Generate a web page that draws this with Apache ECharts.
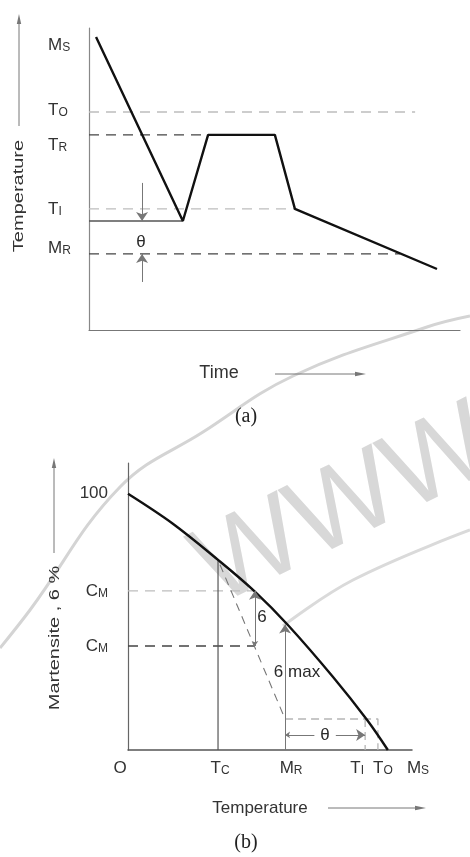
<!DOCTYPE html>
<html>
<head>
<meta charset="utf-8">
<script src="https://cdn.jsdelivr.net/npm/echarts@6/dist/echarts.min.js"></script>
<style>
  html, body { margin: 0; background: #fff; }
  #main { width: 470px; height: 857px; }
</style>
</head>
<body>
<div id="main"></div>
<script>
// (a) temperature / time schedule, both axes in arbitrary units 0-100
var coolPath = [[1.9, 97], [25.3, 36.1], [32.1, 64.6], [50.1, 64.6], [55.5, 40.1], [93.8, 20.2]]
var toLine = [[0, 72.2], [87.9, 72.2]]
var trLine = [[0, 64.6], [32.1, 64.6]]
var tiLine = [[0, 40.1], [55.5, 40.1]]
var quenchLine = [[0, 36.1], [25.3, 36.1]]
var mrLine = [[0, 25.2], [83.8, 25.2]]
var thetaArrowsA = [[[14.3, 48.7], [14.3, 36.1]], [[14.3, 15.9], [14.3, 25.2]]]
var thetaLabelA = [14, 29.1]
var tempTicks = ['MS', 'TO', 'TR', 'TI', 'MR']
var tempTickAt = [94.4, 72.8, 61.3, 40.1, 27.2]

// (b) martensite % vs temperature
var martCurve = [[0, 100], [15.8, 88.3], [31.7, 74.2], [44.4, 62.1], [56.3, 48.8], [72.2, 28.5], [84.2, 11.7], [91.5, 0]]
var cmUpper = [[0, 62.1], [44.4, 62.1]]
var cmLower = [[0, 40.6], [44.7, 40.6]]
var tcLine = [[31.7, 0], [31.7, 74.2]]
var tangent = [[32.4, 72.3], [55.3, 12.1]]
var boxLine = [[55.3, 12.1], [88, 12.1], [88, 0]]
var tiDrop = [[83.5, 12.1], [83.5, 0]]
var deltaArrow = [[44.7, 40.6], [44.7, 62.1]]
var mrArrow = [[55.3, 0], [55.3, 49]]
var thetaArrowB = [[55.3, 5.9], [83.5, 5.9]]
var martTicks = ['100', 'CM', 'CM']
var martTickAt = [100, 62.1, 40.6]
var tempTicksB = ['O', 'TC', 'MR', 'TI', 'TO', 'MS']
var tempTickAtB = [0, 31.7, 55.3, 83.5, 88, 100]
var notesB = [{ value: [47.2, 51.6], name: '6' }, { value: [59.5, 30.5], name: '6 max' }, { value: [69.4, 5.9], name: 'θ' }]

var FONT = '"Liberation Sans", Arial, sans-serif'
var INK = '#333'

// first letter big, the rest as small capitals; shift moves the label sideways
function tickText (t, i) {
  if (t.length === 1 || /^\d+$/.test(t)) return '{b' + i + '|' + t + '}'
  return '{b' + i + '|' + t[0] + '}{s' + i + '|' + t.slice(1) + '}'
}
function tickRich (labels, shifts) {
  var r = {}
  labels.forEach(function (t, i) {
    var d = shifts ? shifts[i] : 0
    var single = t.length === 1 || /^\d+$/.test(t)
    r['b' + i] = { fontSize: 17, fontFamily: FONT, color: INK, verticalAlign: 'bottom',
      padding: [0, (single && d < 0) ? -2 * d : 0, 0, d > 0 ? 2 * d : 0] }
    r['s' + i] = { fontSize: 12, fontFamily: FONT, color: INK, verticalAlign: 'bottom',
      padding: [0, d < 0 ? -2 * d : 0, 0, 0] }
  })
  return r
}

function seg (data, color, type, width, ax) {
  return {
    type: 'line', data: data, xAxisIndex: ax, yAxisIndex: ax,
    showSymbol: false, symbol: 'none', silent: true, z: 3,
    lineStyle: { color: color, type: type, width: width || 1.3 }
  }
}
function arrows (list, color, both, ax) {
  return {
    type: 'lines', coordinateSystem: 'cartesian2d', xAxisIndex: ax, yAxisIndex: ax,
    data: list.map(function (c) { return { coords: c } }),
    symbol: both ? ['arrow', 'arrow'] : ['none', 'arrow'], symbolSize: [5, 9],
    lineStyle: { color: color, width: 1, opacity: 1, curveness: 0 }, silent: true, z: 4
  }
}
function notes (data, ax) {
  return {
    type: 'scatter', xAxisIndex: ax, yAxisIndex: ax, data: data,
    symbolSize: 1, itemStyle: { color: 'transparent', opacity: 1 }, silent: true, z: 5,
    label: { show: true, position: 'inside', formatter: '{b}', fontSize: 17, fontFamily: FONT,
      color: '#2a2a2a', textBorderWidth: 0 }
  }
}

var chartDom = document.getElementById('main')
var myChart = echarts.init(chartDom)
var option

option = {
  backgroundColor: '#fff',
  animation: false,
  grid: [
    { left: 89, top: 28, width: 371, height: 302, outerBoundsMode: 'none' },
    { left: 128, top: 463, width: 284, height: 287, outerBoundsMode: 'none' }
  ],
  xAxis: [
    { type: 'value', gridIndex: 0, min: 0, max: 100,
      axisLine: { lineStyle: { color: '#777', width: 1.2 } },
      axisTick: { show: false }, axisLabel: { show: false }, splitLine: { show: false } },
    { type: 'value', gridIndex: 1, min: 0, max: 100,
      axisLine: { lineStyle: { color: '#555', width: 1.5 } },
      axisTick: { show: false }, splitLine: { show: false },
      axisLabel: {
        customValues: tempTickAtB, margin: 10,
        formatter: function (v) { var i = tempTickAtB.indexOf(v); return tickText(tempTicksB[i], i) },
        rich: tickRich(tempTicksB, [-8, 2, 6, -8, 5, 6])
      } }
  ],
  yAxis: [
    { type: 'value', gridIndex: 0, min: 0, max: 100,
      axisLine: { lineStyle: { color: '#888', width: 1.2 } },
      axisTick: { show: false }, splitLine: { show: false },
      axisLabel: {
        customValues: tempTickAt, margin: 41, align: 'left',
        formatter: function (v) { var i = tempTickAt.indexOf(v); return tickText(tempTicks[i], i) },
        rich: tickRich(tempTicks)
      } },
    { type: 'value', gridIndex: 1, min: 0, max: 112,
      axisLine: { lineStyle: { color: '#666', width: 1.2 } },
      axisTick: { show: false }, splitLine: { show: false },
      axisLabel: {
        customValues: martTickAt, margin: 20,
        formatter: function (v) { var i = martTickAt.indexOf(v); return tickText(martTicks[i], i) },
        rich: tickRich(martTicks)
      } }
  ],
  graphic: [
    // watermark
    { type: 'text', x: 345, y: 508, rotation: 0.46, z: 0, silent: true,
      style: { text: 'WWW', font: '112px ' + FONT, fill: '#d8d8d8', align: 'center', verticalAlign: 'middle' } },
    { type: 'polyline', z: 0, silent: true, shape: { points: [[0, 648], [30, 610], [120, 487], [203, 432], [293, 376], [427, 327], [470, 316]], smooth: 0.4 },
      style: { stroke: '#d4d4d4', lineWidth: 3, fill: null } },
    { type: 'polyline', z: 0, silent: true, shape: { points: [[283, 626], [353, 580], [470, 530]], smooth: 0.4 },
      style: { stroke: '#dadada', lineWidth: 3, fill: null } },
    // axis titles
    { type: 'text', x: 19, y: 196, rotation: Math.PI / 2, scaleY: 0.7,
      style: { text: 'Temperature', font: '20px ' + FONT, fill: INK, align: 'center', verticalAlign: 'middle' } },
    { type: 'line', shape: { x1: 19, y1: 126, x2: 19, y2: 22 }, style: { stroke: '#777', lineWidth: 1 } },
    { type: 'polygon', shape: { points: [[19, 14], [16.8, 24], [21.2, 24]] }, style: { fill: '#777' } },
    { type: 'text', x: 219, y: 373,
      style: { text: 'Time', font: '18px ' + FONT, fill: INK, align: 'center', verticalAlign: 'middle' } },
    { type: 'line', shape: { x1: 275, y1: 374, x2: 357, y2: 374 }, style: { stroke: '#777', lineWidth: 1 } },
    { type: 'polygon', shape: { points: [[366, 374], [355, 371.8], [355, 376.2]] }, style: { fill: '#777' } },
    { type: 'text', x: 246, y: 417,
      style: { text: '(a)', font: '20px "Liberation Serif", "Times New Roman", serif', fill: '#222', align: 'center', verticalAlign: 'middle' } },
    { type: 'text', x: 55, y: 638, rotation: Math.PI / 2, scaleY: 0.7,
      style: { text: 'Martensite , 6 %', font: '20px ' + FONT, fill: INK, align: 'center', verticalAlign: 'middle' } },
    { type: 'line', shape: { x1: 54, y1: 553, x2: 54, y2: 466 }, style: { stroke: '#777', lineWidth: 1 } },
    { type: 'polygon', shape: { points: [[54, 458], [51.8, 468], [56.2, 468]] }, style: { fill: '#777' } },
    { type: 'text', x: 260, y: 808,
      style: { text: 'Temperature', font: '17px ' + FONT, fill: INK, align: 'center', verticalAlign: 'middle' } },
    { type: 'line', shape: { x1: 328, y1: 808, x2: 417, y2: 808 }, style: { stroke: '#777', lineWidth: 1 } },
    { type: 'polygon', shape: { points: [[426, 808], [415, 805.8], [415, 810.2]] }, style: { fill: '#777' } },
    { type: 'text', x: 246, y: 843,
      style: { text: '(b)', font: '20px "Liberation Serif", "Times New Roman", serif', fill: '#222', align: 'center', verticalAlign: 'middle' } }
  ],
  series: [
    // (a)
    seg(toLine, '#bdbdbd', [10, 7], 1.4, 0),
    seg(trLine, '#444', [10, 7], 1.4, 0),
    seg(tiLine, '#bdbdbd', [10, 7], 1.4, 0),
    seg(quenchLine, '#555', 'solid', 1.3, 0),
    seg(mrLine, '#444', [10, 7], 1.4, 0),
    seg(coolPath, '#111', 'solid', 2.4, 0),
    arrows(thetaArrowsA, '#777', false, 0),
    notes([{ value: thetaLabelA, name: 'θ' }], 0),
    // (b)
    seg(cmUpper, '#bdbdbd', [10, 7], 1.4, 1),
    seg(cmLower, '#444', [10, 7], 1.4, 1),
    seg(tcLine, '#555', 'solid', 1.2, 1),
    seg(tangent, '#777', [8, 6], 1.1, 1),
    seg(boxLine, '#b5b5b5', [8, 5], 1.3, 1),
    seg(tiDrop, '#b5b5b5', [8, 5], 1.3, 1),
    Object.assign(seg(martCurve, '#111', 'solid', 2.4, 1), { smooth: 0.35 }),
    arrows([deltaArrow], '#777', true, 1),
    arrows([mrArrow], '#777', false, 1),
    arrows([thetaArrowB], '#777', true, 1),
    notes(notesB, 1)
  ]
}
// the theta in (b) sits on a gap of its arrow
notesB[2].label = { backgroundColor: '#fff', padding: [0, 6] }

myChart.setOption(option)
window.addEventListener('resize', () => myChart.resize())
</script>
</body>
</html>
